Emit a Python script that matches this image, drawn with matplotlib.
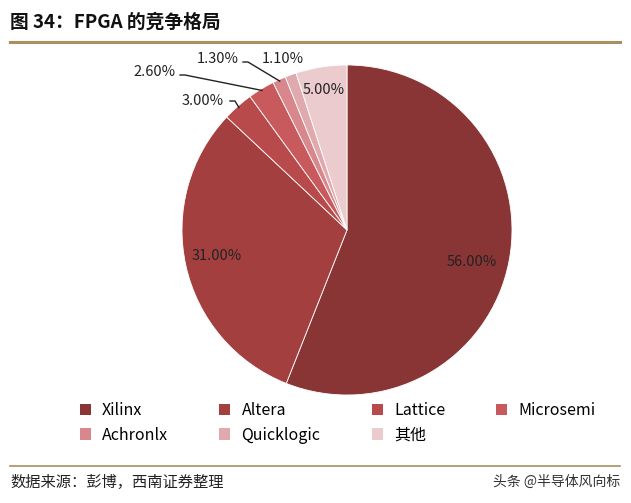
import matplotlib
matplotlib.use("Agg")
import matplotlib.pyplot as plt
import numpy as np
from matplotlib.patches import Patch
from matplotlib.lines import Line2D

plt.rcParams['font.family'] = ['Noto Sans CJK SC', 'DejaVu Sans']

labels = ['Xilinx', 'Altera', 'Lattice', 'Microsemi', 'Achronlx', 'Quicklogic', '其他']
values = [56.0, 31.0, 3.0, 2.6, 1.3, 1.1, 5.0]
colors = ['#8a3535', '#a3403f', '#b84a4c', '#c85a5d', '#d8878c', '#e0a9ad', '#ebcbcd']

W, H = 631, 503
fig = plt.figure(figsize=(W/100, H/100), dpi=100)
fig.patch.set_facecolor('white')

cx, cy, r = 347, 230, 165
ax = fig.add_axes([(cx-r)/W, 1-(cy+r)/H, 2*r/W, 2*r/H])
wedges, _ = ax.pie(values, colors=colors, startangle=90, counterclock=False,
                   wedgeprops=dict(linewidth=0.6, edgecolor='white'))
ax.set_xlim(-1, 1); ax.set_ylim(-1, 1)
ax.set_aspect('equal')

def px2d(x, y):
    return ((x-cx)/r, (cy-y)/r)

fs = 10.5
ax.text(*px2d(472, 262), '56.00%', ha='center', va='center', fontsize=fs, color='#222222')
ax.text(*px2d(217, 256), '31.00%', ha='center', va='center', fontsize=fs, color='#222222')
ax.text(*px2d(324, 90), '5.00%', ha='center', va='center', fontsize=fs, color='#222222')

# small labels: (index, text position, leader start px)
small = [(2, (203, 101), (230, 101)), (3, (155, 72), (180, 75)),
         (4, (218, 59), (243, 62)), (5, (283, 59), None)]
for i, tpos, start in small:
    w = wedges[i]
    ang = np.deg2rad((w.theta1 + w.theta2)/2)
    ex, ey = np.cos(ang)*0.99, np.sin(ang)*0.99
    ax.text(*px2d(*tpos), f'{values[i]:.2f}%', ha='center', va='center', fontsize=fs, color='#222222')
    if start is not None:
        s = px2d(*start)
        ax.plot([s[0], s[0]+0.03, ex], [s[1], s[1], ey], color='#222222', lw=1.0, clip_on=False)

fig.text(10/W, 1-22/H, '图 34：FPGA 的竞争格局', fontsize=13.5, fontweight='bold', va='center', ha='left', color='#111111')
fig.add_artist(Line2D([10/W, 620/W], [1-42/H]*2, color='#a89060', lw=2.2))
fig.add_artist(Line2D([10/W, 620/W], [1-466/H]*2, color='#a89060', lw=1.2))
fig.text(10/W, 1-482/H, '数据来源：彭博，西南证券整理', fontsize=11, style='italic', va='center', color='#222222')
fig.text(620/W, 1-482/H, '头条 @半导体风向标', fontsize=10, ha='right', va='center', color='#333333')

order = [0, 4, 1, 5, 2, 6, 3]
handles = [Patch(facecolor=colors[i], edgecolor='none') for i in order]
fig.legend(handles, [labels[i] for i in order], loc='center', bbox_to_anchor=(0.535, 1-423/H), ncol=4,
           frameon=False, fontsize=11.5, handlelength=0.7, handleheight=0.7,
           columnspacing=3.2, labelspacing=0.45, handletextpad=0.7)

fig.savefig('out.png', dpi=100)
